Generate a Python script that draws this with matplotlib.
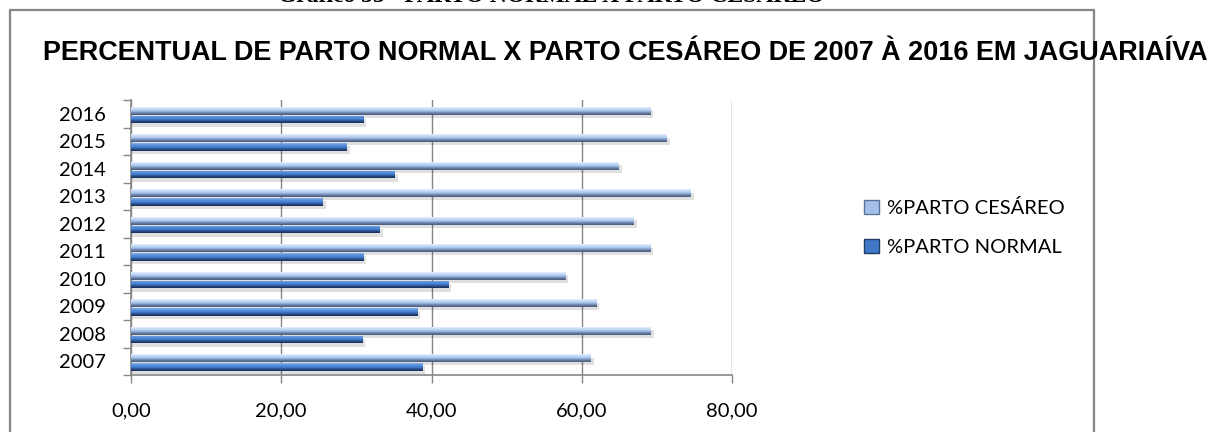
import numpy as np
import matplotlib
matplotlib.use("Agg")
import matplotlib.pyplot as plt
import matplotlib.colors as mcolors
from matplotlib.patches import Rectangle, Patch

# Data
years = ["2007", "2008", "2009", "2010", "2011", "2012", "2013", "2014", "2015", "2016"]
parto_normal = [38.8, 30.8, 38.1, 42.2, 30.9, 33.1, 25.5, 35.1, 28.7, 30.9]
parto_cesareo = [61.2, 69.2, 61.9, 57.8, 69.1, 66.9, 74.5, 64.9, 71.3, 69.1]
x_ticks = [0, 20, 40, 60, 80]
x_tick_labels = ["0,00", "20,00", "40,00", "60,00", "80,00"]

title = "PERCENTUAL DE PARTO NORMAL X PARTO CESÁREO DE 2007 À 2016 EM JAGUARIAÍVA"
top_caption = "Gráfico 35 - PARTO NORMAL X PARTO CESÁREO"

W, H = 1215, 432
DPI = 100
grid_color = "#868686"
label_font = "Lato"
label_size = 14.5

# vertical gradients (bottom -> top) for the bevelled bars
cmap_cesareo = mcolors.LinearSegmentedColormap.from_list(
    "ces", ["#465a7c", "#6a7fa3", "#a3c0ea", "#c4d9f6", "#e6f0fd"])
cmap_normal = mcolors.LinearSegmentedColormap.from_list(
    "nor", ["#172d52", "#284f8c", "#4681d4", "#5890dc", "#86b2ea"])


def px(x):
    return x / W


def py(y):
    return 1 - y / H


fig = plt.figure(figsize=(W / DPI, H / DPI), dpi=DPI)

# outer frame of the chart object
frame = Rectangle((px(10), py(440)), px(1094) - px(10), py(10) - py(440),
                  transform=fig.transFigure, fill=False,
                  edgecolor=grid_color, lw=1.6, clip_on=False)
fig.patches.append(frame)

# caption of the page, cut at the top edge
fig.text(px(278), py(2), top_caption, family="Liberation Serif",
         weight="bold", fontsize=17, ha="left", va="baseline")

# chart title, fitted to its width in the picture
t = fig.text(px(43), py(60), title, family="Liberation Sans", weight="bold",
             fontsize=13, ha="left", va="baseline")
fig.canvas.draw()
bb = t.get_window_extent()
t.set_fontsize(13 * (1212 - 43) / bb.width)

ax = fig.add_axes([px(131), py(375), px(732) - px(131), py(100) - py(375)])

pos = np.arange(len(years))
bar_h = 0.28
gy = np.linspace(0, 1, 64).reshape(-1, 1)


def gradient_bar(x_end, y_center, cmap, shadow=True):
    y0 = y_center - bar_h / 2
    if shadow:
        ax.add_patch(Rectangle((0, y0 - 0.12), x_end + 0.4, bar_h,
                               facecolor="#000000", alpha=0.12, lw=0, zorder=2))
    rect = Rectangle((0, y0), x_end, bar_h, facecolor="none", lw=0, zorder=3)
    ax.add_patch(rect)
    im = ax.imshow(gy, cmap=cmap, aspect="auto", origin="lower",
                   extent=(0, x_end, y0, y0 + bar_h), zorder=3,
                   interpolation="bilinear")
    im.set_clip_path(rect)


for i in pos:
    gradient_bar(parto_cesareo[i], i + 0.11, cmap_cesareo)
    gradient_bar(parto_normal[i], i - 0.21, cmap_normal)

ax.set_xlim(0, 80)
ax.set_ylim(-0.5, len(years) - 0.5)

ax.set_xticks(x_ticks)
ax.set_xticklabels(x_tick_labels, family=label_font, fontsize=label_size)
ax.set_yticks(pos)
ax.set_yticklabels(years, family=label_font, fontsize=label_size)
ax.set_yticks(np.arange(-0.5, len(years), 1.0), minor=True)

ax.tick_params(axis="y", which="major", length=0, pad=18)
ax.tick_params(axis="y", which="minor", length=6, width=1, color=grid_color)
ax.tick_params(axis="x", which="major", length=6, width=1, color=grid_color,
               pad=14)

ax.grid(axis="x", color=grid_color, lw=1)
ax.set_axisbelow(True)
for side in ["top", "right"]:
    ax.spines[side].set_visible(False)
for side in ["left", "bottom"]:
    ax.spines[side].set_color(grid_color)
    ax.spines[side].set_linewidth(1.2)

handles = [Patch(facecolor="#a3c0ea", edgecolor="#5f7396", label="%PARTO CESÁREO"),
           Patch(facecolor="#3f78c8", edgecolor="#1f3d66", label="%PARTO NORMAL")]
fig.legend(handles=handles, loc="upper left", bbox_to_anchor=(px(846), py(181)),
           frameon=False, prop={"family": label_font, "size": label_size},
           handlelength=0.75, handleheight=0.7, handletextpad=0.4,
           labelspacing=1.1)

fig.savefig("out.png", dpi=DPI)
